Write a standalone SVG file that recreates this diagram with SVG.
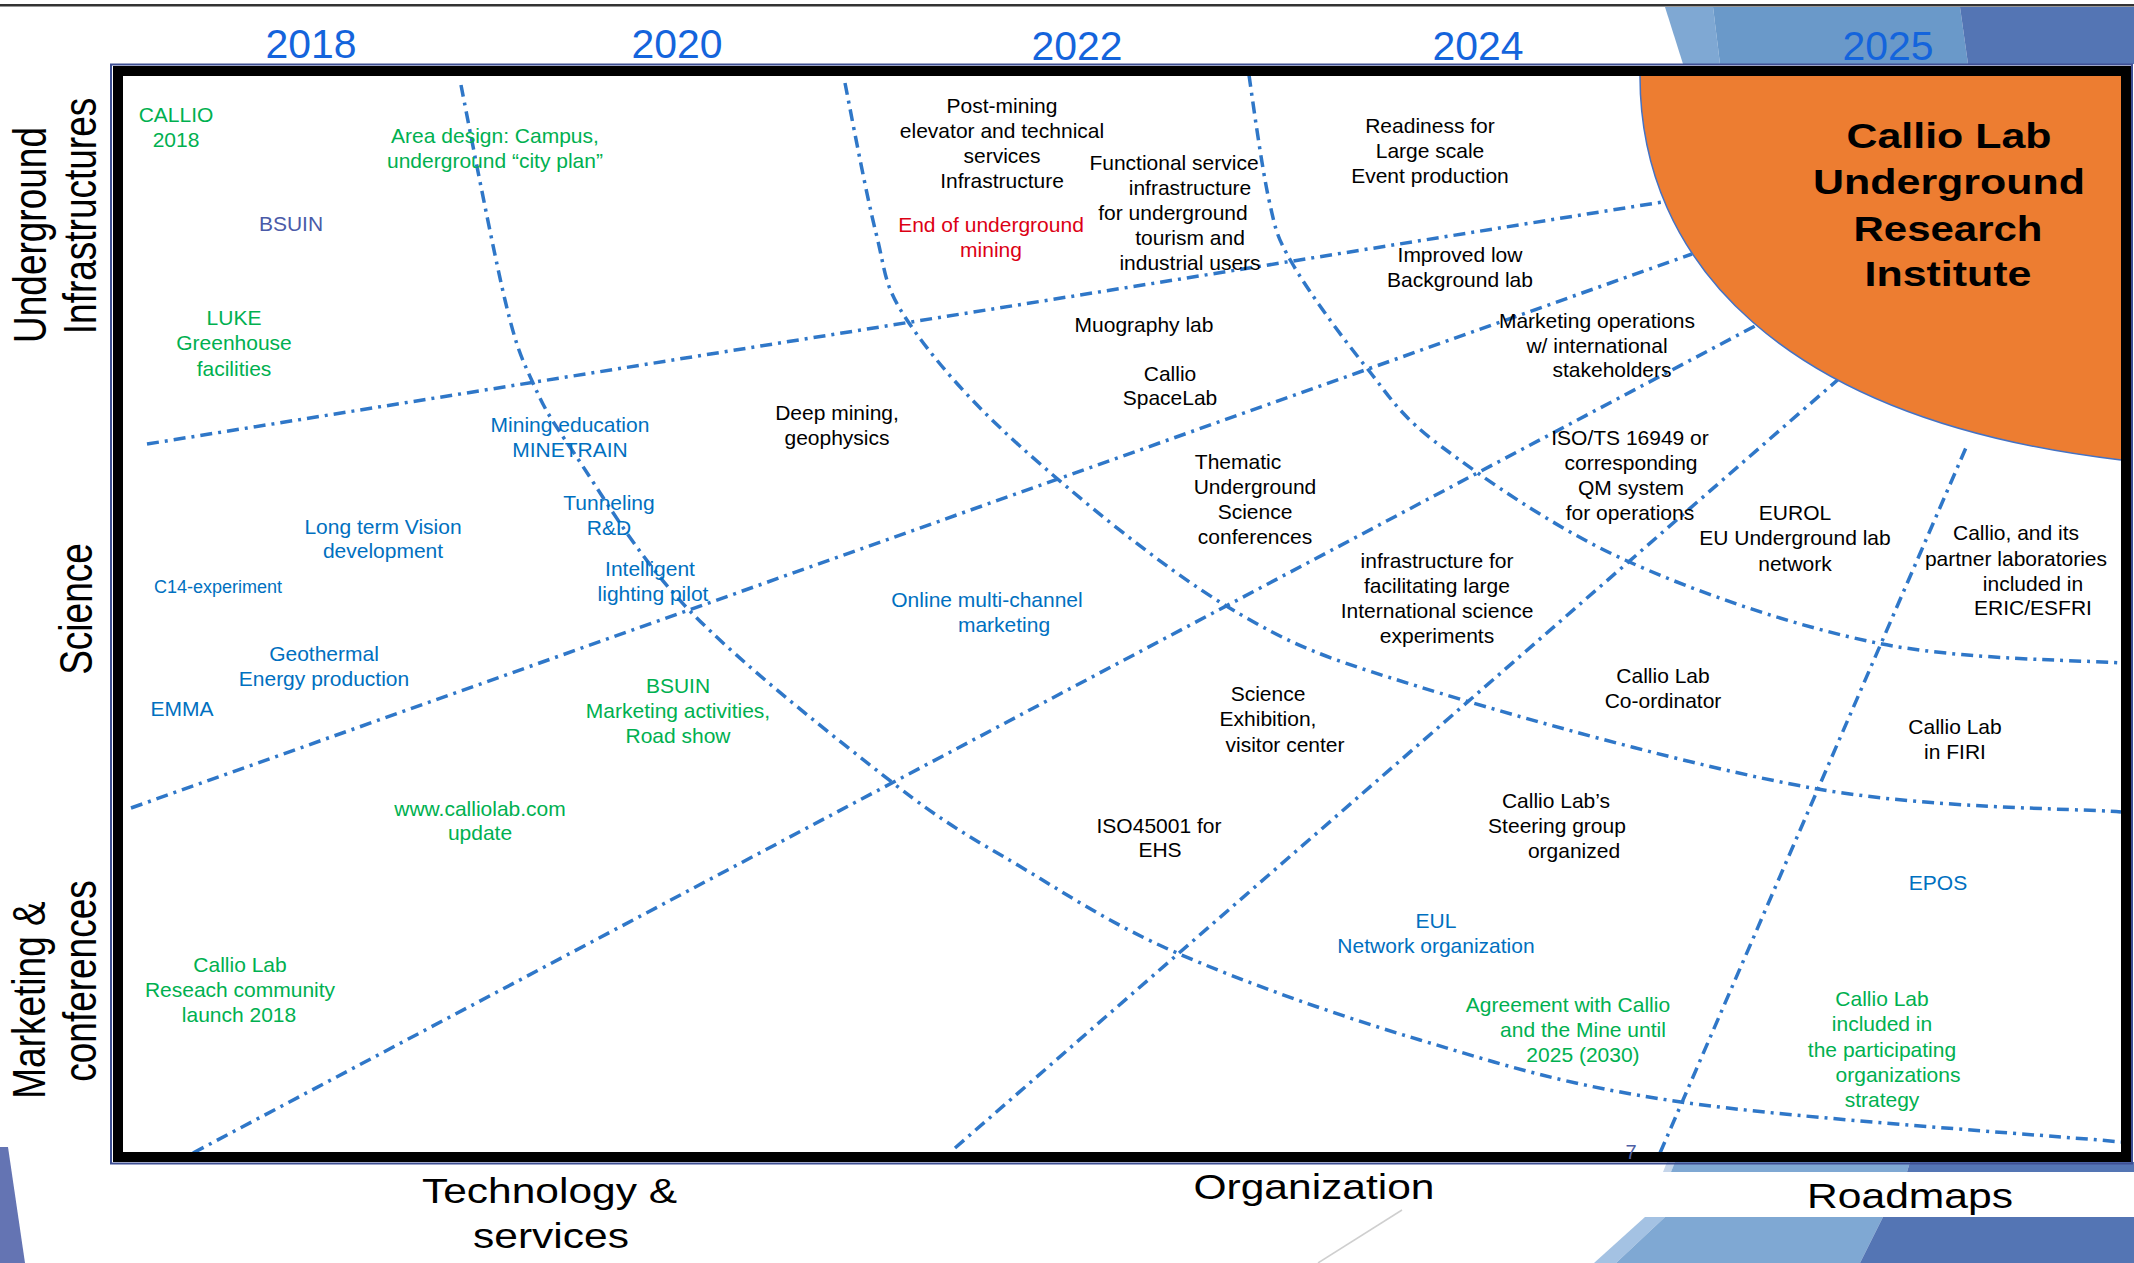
<svg xmlns="http://www.w3.org/2000/svg" width="2134" height="1263" viewBox="0 0 2134 1263">
<style>
text { font-family: "Liberation Sans", Arial, sans-serif; }
.n { font-size: 21px; text-anchor: middle; }
.k { fill: #000000; }
.g { fill: #00B050; }
.b { fill: #0070C0; }
.r { fill: #DC0014; }
.s { fill: #4A5AA8; }
.yr { font-size: 40px; fill: #1464DC; text-anchor: middle; }
.ax { font-size: 35px; fill: #000000; text-anchor: middle; }
.side { font-size: 37px; fill: #000000; text-anchor: middle; }
.title { font-size: 35px; font-weight: bold; fill: #000000; text-anchor: middle; }
.dl { fill: none; stroke: #2F77C8; stroke-width: 3.5; stroke-dasharray: 12 6 3 6; }
.fl { fill: #7FA8D3; }
.fm { fill: #6A99C9; }
.fd { fill: #5475B4; }
</style>
<rect x="0" y="0" width="2134" height="1263" fill="#ffffff"/>

<g id="decoration">
  <rect x="0" y="4" width="2134" height="2.5" fill="#333333"/>
  <polygon class="fl" points="1665,7 1713,7 1720,64 1683,64"/>
  <polygon class="fm" points="1713,7 1960,7 1968,64 1720,64"/>
  <polygon class="fd" points="1960,7 2134,7 2134,64 1968,64"/>
  <polygon points="1667,1162 1675,1162 1671,1172 1663,1172" fill="#C5D5EA"/>
  <polygon class="fl" points="1675,1162 1910,1162 1907,1172 1671,1172"/>
  <polygon class="fd" points="1910,1162 2134,1162 2134,1172 1907,1172"/>
  <polygon points="1645,1217 1665,1217 1616,1263 1594,1263" fill="#A4C2E3"/>
  <polygon class="fl" points="1665,1217 1883,1217 1860,1263 1616,1263"/>
  <polygon class="fd" points="1883,1217 2134,1217 2134,1263 1860,1263"/>
  <polygon points="0,1147 8,1147 25,1263 0,1263" fill="#6474B3"/>
  <line x1="1402" y1="1210" x2="1318" y2="1263" stroke="#CFCFCF" stroke-width="1.5"/>
</g>

<g id="connectors">
  <line class="dl" x1="147" y1="444" x2="1675" y2="200"/>
  <line class="dl" x1="131" y1="808" x2="1692" y2="254"/>
  <line class="dl" x1="193" y1="1153" x2="1755" y2="326"/>
  <line class="dl" x1="955" y1="1148" x2="1849" y2="370"/>
  <line class="dl" x1="1660" y1="1153" x2="1968" y2="443"/>
  <path class="dl" d="M461,85 C468,121 493,250 505,300 C517,350 521.5,357.5 533,383 C544.5,408.5 548,415 574,453 C600,491 636,555 689,610 C742,665 838,740 893,783 C948,826 974,839 1021,867 C1068,895 1110.5,924 1177,953 C1243.5,982 1336,1015 1420,1040 C1504,1065 1564,1085 1681,1102 C1798,1119 2048,1135 2121,1142"/>
  <path class="dl" d="M845,83 C850,108 866,193.5 876,233 C886,272.5 883,284 907,320 C931,356 967.5,399 1021,447 C1074.5,495 1161.5,567 1228,607 C1294.5,647 1323,657 1420,687 C1517,717 1695,767 1812,788 C1929,809 2069.5,808 2121,812"/>
  <path class="dl" d="M1249,75 C1252,96 1262,169 1269,200 C1276,231 1276,235 1292,263 C1308,291 1341,336 1366,367 C1391,398 1399,415 1442,447 C1485,479 1552.5,527 1625,560 C1697.5,593 1794,626 1877,643 C1960,660 2080,660 2121,663"/>
</g>

<g id="institute">
  <path d="M1640,76 C1640,260 1780,420 2121,460 L2126,460 L2126,71 L1640,71 Z" fill="#ED7D31"/>
  <path d="M1640,76 C1640,260 1780,420 2121,460" fill="none" stroke="#4472C4" stroke-width="1.5"/>
  <text class="title" x="1949" y="148" textLength="205" lengthAdjust="spacingAndGlyphs">Callio Lab</text>
  <text class="title" x="1949" y="194" textLength="272" lengthAdjust="spacingAndGlyphs">Underground</text>
  <text class="title" x="1948" y="241" textLength="189" lengthAdjust="spacingAndGlyphs">Research</text>
  <text class="title" x="1948" y="286" textLength="167" lengthAdjust="spacingAndGlyphs">Institute</text>
</g>

<g id="frame">
  <rect x="111" y="64.5" width="2021" height="1099" fill="none" stroke="#3E4F93" stroke-width="2"/>
  <rect x="118" y="71" width="2008" height="1086" fill="none" stroke="#000000" stroke-width="10"/>
</g>

<g id="years">
  <text class="yr" x="311" y="58" textLength="91" lengthAdjust="spacingAndGlyphs">2018</text>
  <text class="yr" x="677" y="58" textLength="91" lengthAdjust="spacingAndGlyphs">2020</text>
  <text class="yr" x="1077" y="60" textLength="91" lengthAdjust="spacingAndGlyphs">2022</text>
  <text class="yr" x="1478" y="60" textLength="91" lengthAdjust="spacingAndGlyphs">2024</text>
  <text class="yr" x="1888" y="60" textLength="91" lengthAdjust="spacingAndGlyphs">2025</text>
</g>

<g id="axis-labels">
  <text class="side" transform="translate(46,235) scale(1.25,1) rotate(-90)">Underground</text>
  <text class="side" transform="translate(96,216) scale(1.25,1) rotate(-90)">Infrastructures</text>
  <text class="side" transform="translate(92,609) scale(1.25,1) rotate(-90)">Science</text>
  <text class="side" transform="translate(45,1000) scale(1.25,1) rotate(-90)">Marketing &amp;</text>
  <text class="side" transform="translate(96,981) scale(1.25,1) rotate(-90)">conferences</text>
  <text class="ax" x="549.5" y="1203" textLength="255" lengthAdjust="spacingAndGlyphs">Technology &amp;</text>
  <text class="ax" x="551" y="1248" textLength="156" lengthAdjust="spacingAndGlyphs">services</text>
  <text class="ax" x="1314" y="1199" textLength="241" lengthAdjust="spacingAndGlyphs">Organization</text>
  <text class="ax" x="1910" y="1208" textLength="206" lengthAdjust="spacingAndGlyphs">Roadmaps</text>
</g>

<g id="n-callio2018"><text class="n g"><tspan x="176" y="122">CALLIO</tspan><tspan x="176" y="147">2018</tspan></text></g>
<g id="n-area-design"><text class="n g"><tspan x="495" y="143">Area design: Campus,</tspan><tspan x="495" y="168">underground “city plan”</tspan></text></g>
<g id="n-bsuin"><text class="n s" x="291" y="231">BSUIN</text></g>
<g id="n-luke"><text class="n g"><tspan x="234" y="325">LUKE</tspan><tspan x="234" y="350">Greenhouse</tspan><tspan x="234" y="376">facilities</tspan></text></g>
<g id="n-mining-education"><text class="n b"><tspan x="570" y="432">Mining education</tspan><tspan x="570" y="457">MINETRAIN</tspan></text></g>
<g id="n-deep-mining"><text class="n k"><tspan x="837" y="420">Deep mining,</tspan><tspan x="837" y="445">geophysics</tspan></text></g>
<g id="n-post-mining"><text class="n k"><tspan x="1002" y="113">Post-mining</tspan><tspan x="1002" y="138">elevator and technical</tspan><tspan x="1002" y="163">services</tspan><tspan x="1002" y="188">Infrastructure</tspan></text></g>
<g id="n-end-mining"><text class="n r"><tspan x="991" y="232">End of underground</tspan><tspan x="991" y="257">mining</tspan></text></g>
<g id="n-functional-service"><text class="n k"><tspan x="1174" y="170">Functional service</tspan><tspan x="1190" y="195">infrastructure</tspan><tspan x="1173" y="220">for underground</tspan><tspan x="1190" y="245">tourism and</tspan><tspan x="1190" y="270">industrial users</tspan></text></g>
<g id="n-muography"><text class="n k" x="1144" y="332">Muography lab</text></g>
<g id="n-spacelab"><text class="n k"><tspan x="1170" y="381">Callio</tspan><tspan x="1170" y="405">SpaceLab</tspan></text></g>
<g id="n-readiness"><text class="n k"><tspan x="1430" y="133">Readiness for</tspan><tspan x="1430" y="158">Large scale</tspan><tspan x="1430" y="183">Event production</tspan></text></g>
<g id="n-low-background"><text class="n k"><tspan x="1460" y="262">Improved low</tspan><tspan x="1460" y="287">Background lab</tspan></text></g>
<g id="n-marketing-ops"><text class="n k"><tspan x="1597" y="328">Marketing operations</tspan><tspan x="1597" y="353">w/ international</tspan><tspan x="1612" y="377">stakeholders</tspan></text></g>
<g id="n-thematic"><text class="n k"><tspan x="1238" y="469">Thematic</tspan><tspan x="1255" y="494">Underground</tspan><tspan x="1255" y="519">Science</tspan><tspan x="1255" y="544">conferences</tspan></text></g>
<g id="n-iso-ts"><text class="n k"><tspan x="1630" y="445">ISO/TS 16949 or</tspan><tspan x="1631" y="470">corresponding</tspan><tspan x="1631" y="495">QM system</tspan><tspan x="1630" y="520">for operations</tspan></text></g>
<g id="n-eurol"><text class="n k"><tspan x="1795" y="520">EUROL</tspan><tspan x="1795" y="545">EU Underground lab</tspan><tspan x="1795" y="571">network</tspan></text></g>
<g id="n-eric"><text class="n k"><tspan x="2016" y="540">Callio, and its</tspan><tspan x="2016" y="566">partner laboratories</tspan><tspan x="2033" y="591">included in</tspan><tspan x="2033" y="615">ERIC/ESFRI</tspan></text></g>
<g id="n-long-term"><text class="n b"><tspan x="383" y="534">Long term Vision</tspan><tspan x="383" y="558">development</tspan></text></g>
<g id="n-tunneling"><text class="n b"><tspan x="609" y="510">Tunneling</tspan><tspan x="609" y="535">R&amp;D</tspan></text></g>
<g id="n-lighting"><text class="n b"><tspan x="650" y="576">Intelligent</tspan><tspan x="653" y="601">lighting pilot</tspan></text></g>
<g id="n-c14"><text class="b" x="218" y="593" font-size="18" text-anchor="middle">C14-experiment</text></g>
<g id="n-geothermal"><text class="n b"><tspan x="324" y="661">Geothermal</tspan><tspan x="324" y="686">Energy production</tspan></text></g>
<g id="n-emma"><text class="n b" x="182" y="716">EMMA</text></g>
<g id="n-bsuin-marketing"><text class="n g"><tspan x="678" y="693">BSUIN</tspan><tspan x="678" y="718">Marketing activities,</tspan><tspan x="678" y="743">Road show</tspan></text></g>
<g id="n-website"><text class="n g"><tspan x="480" y="816">www.calliolab.com</tspan><tspan x="480" y="840">update</tspan></text></g>
<g id="n-online"><text class="n b"><tspan x="987" y="607">Online multi-channel</tspan><tspan x="1004" y="632">marketing</tspan></text></g>
<g id="n-science-exhibition"><text class="n k"><tspan x="1268" y="701">Science</tspan><tspan x="1268" y="726">Exhibition,</tspan><tspan x="1285" y="752">visitor center</tspan></text></g>
<g id="n-infra-experiments"><text class="n k"><tspan x="1437" y="568">infrastructure for</tspan><tspan x="1437" y="593">facilitating large</tspan><tspan x="1437" y="618">International science</tspan><tspan x="1437" y="643">experiments</tspan></text></g>
<g id="n-coordinator"><text class="n k"><tspan x="1663" y="683">Callio Lab</tspan><tspan x="1663" y="708">Co-ordinator</tspan></text></g>
<g id="n-firi"><text class="n k"><tspan x="1955" y="734">Callio Lab</tspan><tspan x="1955" y="759">in FIRI</tspan></text></g>
<g id="n-iso45001"><text class="n k"><tspan x="1159" y="833">ISO45001 for</tspan><tspan x="1160" y="857">EHS</tspan></text></g>
<g id="n-steering"><text class="n k"><tspan x="1556" y="808">Callio Lab’s</tspan><tspan x="1557" y="833">Steering group</tspan><tspan x="1574" y="858">organized</tspan></text></g>
<g id="n-eul"><text class="n b"><tspan x="1436" y="928">EUL</tspan><tspan x="1436" y="953">Network organization</tspan></text></g>
<g id="n-epos"><text class="n b" x="1938" y="890">EPOS</text></g>
<g id="n-agreement"><text class="n g"><tspan x="1568" y="1012">Agreement with Callio</tspan><tspan x="1583" y="1037">and the Mine until</tspan><tspan x="1583" y="1062">2025 (2030)</tspan></text></g>
<g id="n-strategy"><text class="n g"><tspan x="1882" y="1006">Callio Lab</tspan><tspan x="1882" y="1031">included in</tspan><tspan x="1882" y="1057">the participating</tspan><tspan x="1898" y="1082">organizations</tspan><tspan x="1882" y="1107">strategy</tspan></text></g>
<g id="n-community"><text class="n g"><tspan x="240" y="972">Callio Lab</tspan><tspan x="240" y="997">Reseach community</tspan><tspan x="239" y="1022">launch  2018</tspan></text></g>
<g id="slide-number"><text x="1631" y="1159" font-size="20" fill="#4E5FA5" text-anchor="middle">7</text></g>
</svg>
